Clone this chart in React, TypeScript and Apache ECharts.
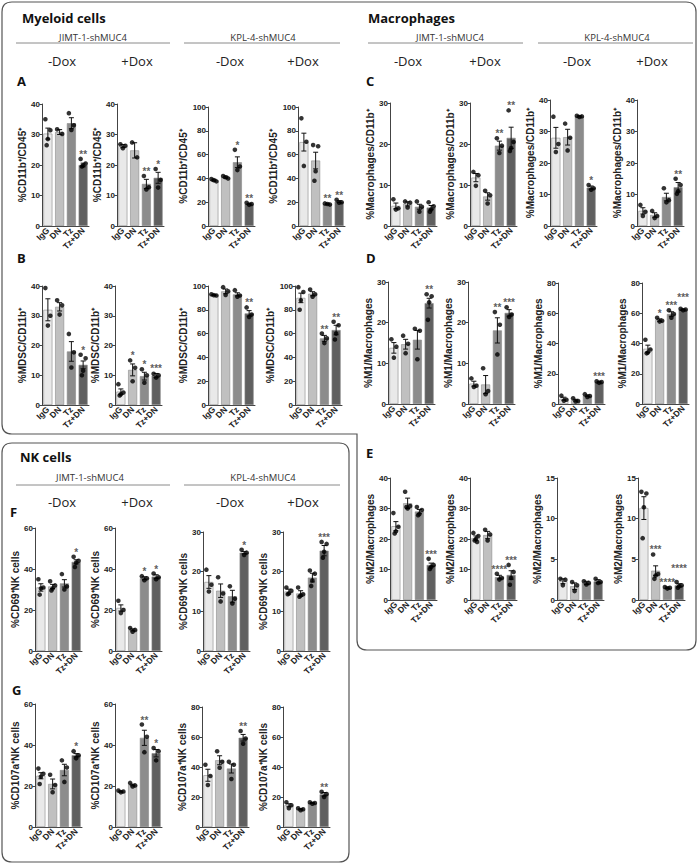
import React, { useEffect, useRef } from "react";
import * as echarts from "echarts";

// ---------- data ----------
const CATS = ["IgG", "DN", "Tz", "Tz+DN"];
const CELL_LINES = ["JIMT-1-shMUC4", "KPL-4-shMUC4"];
const DOX = ["-Dox", "+Dox"];

// Row A  (%CD11b+/CD45+)
const A_TITLE = "%CD11b⁺/CD45⁺";
const A_MAX = [40, 40, 100, 100];
const A_STEP = [10, 10, 20, 20];
const A_MEAN = [[30.3, 30.8, 33.7, 20.0], [26.2, 24.8, 13.8, 15.8], [38.5, 41.0, 53.6, 18.5], [70.5, 55.0, 18.5, 20.5]];
const A_SEM = [[1.8, 0.8, 1.8, 0.6], [0.5, 2.5, 1.5, 1.8], [0.8, 0.9, 4.5, 0.6], [7.5, 7.0, 0.6, 0.8]];
const A_PTS = [
  [[35, 31.4, 28.5, 26.5], [31.7, 30.2], [37, 33, 31.5], [22, 20.5, 19.8, 19.5]],
  [[26.8, 26.3, 25.5], [27.4, 22.5], [16.4, 12.7, 12.0], [18.7, 15.1, 12.6]],
  [[39.5, 37.5, 38.5], [42, 40, 41], [64, 50, 47], [19.5, 18.5, 17.8]],
  [[90.5, 70.8, 50.5], [68, 67, 46, 38], [19, 18, 18.5], [22, 20, 19.5]],
];
const A_SIG = [["", "", "", "**"], ["", "", "**", "*"], ["", "", "*", "**"], ["", "", "**", "**"]];

// Row B (%MDSC/CD11b+)
const B_TITLE = "%MDSC/CD11b⁺";
const B_MAX = [40, 40, 100, 100];
const B_STEP = [10, 10, 20, 20];
const B_MEAN = [[32, 33, 18, 13.5], [4.5, 11.8, 9.7, 9.9], [92.4, 95.5, 93, 77], [90, 93.5, 56, 63]];
const B_SEM = [[3.7, 1.4, 3.3, 1.3], [0.9, 2.0, 1.3, 0.7], [0.5, 2, 1.3, 2.3], [4, 1.7, 2.5, 4]];
const B_PTS = [
  [[39.3, 30, 26.7], [35.2, 33.5, 30.4], [23.9, 17.7, 12.6], [16.9, 15.7, 11.5, 10]],
  [[7, 4.2, 3.6, 3.2], [15, 12.5, 8], [12, 10, 7.5], [10.5, 10, 9.2]],
  [[93, 92, 92.3], [99, 95.5, 92.5], [96.5, 92, 91], [82, 76, 74]],
  [[99, 95, 88, 80], [97, 93, 91], [60, 56, 52], [70, 67, 60, 55]],
];
const B_SIG = [["", "", "", "*"], ["", "*", "*", "***"], ["", "", "", "**"], ["", "", "**", "**"]];

// Row C (%Macrophages/CD11b+)
const C_TITLE = "%Macrophages/CD11b⁺";
const C_MAX = [30, 30, 40, 40];
const C_STEP = [10, 10, 10, 10];
const C_MEAN = [[4.9, 5.4, 4.7, 4.5], [11.8, 7.2, 19.6, 21.5], [28.0, 28.2, 34.8, 12.2], [4.8, 3.5, 9.2, 12.3]];
const C_SEM = [[0.7, 0.5, 0.6, 0.5], [1.0, 0.9, 1.1, 2.6], [3.3, 2.5, 0.2, 0.5], [1.0, 0.7, 1.2, 1.5]];
const C_PTS = [
  [[6.5, 4.3, 4], [6, 5.7, 4.5], [6, 4.7, 3.5], [5.8, 4.8, 4, 3.5]],
  [[13.2, 12.4, 9.8], [8.6, 7.5, 5.5], [21.4, 19.6, 17.8], [28.2, 20.5, 19, 18.3]],
  [[34.7, 26, 23.5], [32.5, 28, 24], [35, 34.8, 34.6], [13, 12, 11.5]],
  [[6.7, 4.5, 3.2], [4.8, 3.2, 2.5], [12, 8.2, 7.5], [15, 13, 11, 10.2]],
];
const C_SIG = [["", "", "", ""], ["", "", "**", "**"], ["", "", "", "*"], ["", "", "", "**"]];

// Row D (%M1/Macrophages)
const D_TITLE = "%M1/Macrophages";
const D_MAX = [30, 30, 80, 80];
const D_STEP = [10, 10, 20, 20];
const D_MEAN = [[13.8, 14.7, 15.8, 24.8], [5.0, 4.8, 18.1, 22.4], [3.5, 2.5, 5.5, 14.5], [36.5, 55.5, 59.5, 62.5]];
const D_SEM = [[1.3, 1.2, 2.3, 1.2], [0.6, 2.2, 3.1, 0.8], [1.0, 0.6, 0.5, 0.5], [2.4, 0.8, 1.5, 0.3]];
const D_PTS = [
  [[15.9, 14.1, 11.4], [16.8, 14.8, 12.5], [18.5, 18, 11], [27, 26.5, 25, 20.7]],
  [[6.3, 4.5, 4.2], [8.8, 3.2, 2.4], [22.6, 19.5, 12.2], [23.8, 22, 21.4]],
  [[5.5, 2.8, 2.2], [3.8, 2, 1.7], [6.5, 5.3, 4.7], [15, 14.5, 14]],
  [[42.5, 36, 34, 33.5], [57, 55, 54.5], [62, 59.5, 57], [63, 62.5, 62]],
];
const D_SIG = [["", "", "", "**"], ["", "", "**", "***"], ["", "", "", "***"], ["", "*", "***", "***"]];

// Row E (%M2/Macrophages)
const E_TITLE = "%M2/Macrophages";
const E_MAX = [40, 40, 15, 15];
const E_STEP = [10, 10, 5, 5];
const E_MEAN = [[24.2, 31.7, 29.0, 11.5], [20.3, 21.3, 7.5, 8.2], [2.3, 1.7, 2.1, 2.3], [11.3, 3.6, 1.5, 1.8]];
const E_SEM = [[1.5, 1.7, 0.7, 0.6], [0.7, 1.2, 0.6, 1.4], [0.3, 0.4, 0.2, 0.2], [1.4, 0.6, 0.1, 0.2]];
const E_PTS = [
  [[28.5, 24, 22.5, 21.8], [35.5, 30.8, 30, 30.5], [30.5, 29.5, 28.2, 27.8], [13.5, 11.5, 10.8, 10.2]],
  [[22, 21, 20, 19.5, 19], [23, 21.5, 19.5], [8.6, 7.2, 6.7], [11.5, 9.2, 7.2, 5]],
  [[2.6, 2.5, 1.8], [2.2, 1.8, 1.1], [2.3, 2.1, 1.9], [2.6, 2.2, 2.1]],
  [[13.3, 13.1, 11.4, 7.6], [5.6, 3.2, 3.0, 2.6], [1.6, 1.5, 1.4], [2.2, 1.8, 1.7, 1.5]],
];
const E_SIG = [["", "", "", "***"], ["", "", "****", "***"], ["", "", "", ""], ["", "***", "****", "****"]];

// Row F (%CD69+NK cells)
const F_TITLE = "%CD69⁺NK cells";
const F_MAX = [60, 60, 30, 30];
const F_STEP = [20, 20, 10, 10];
const F_MEAN = [[31, 31.5, 33, 43.5], [21, 10.3, 35.5, 36.3], [17.4, 15.2, 13.8, 24.8], [15, 14.5, 18.5, 25.3]];
const F_SEM = [[1.8, 1.0, 1.8, 1.0], [1.5, 0.5, 0.7, 0.9], [1.6, 1.7, 1.5, 0.3], [0.6, 0.7, 1.1, 1.3]];
const F_PTS = [
  [[35, 31, 30.5, 27.5], [34, 32, 30.5, 29.5], [37.5, 31.5, 30], [46, 44, 43, 41]],
  [[24.5, 20, 18.5], [11.2, 10.3, 9.4], [36.5, 35.5, 34.5], [37.8, 36, 35]],
  [[20.5, 16.7, 15], [18.6, 14.5, 12.5], [16.3, 13.2, 12], [25.5, 24.8, 24.2]],
  [[16, 15.2, 14.5, 14.3], [16, 14.3, 14, 13.7], [20.3, 19.5, 17.8, 16.4], [27.5, 27, 25, 23.5]],
];
const F_SIG = [["", "", "", "*"], ["", "", "*", "*"], ["", "", "", "*"], ["", "", "", "***"]];

// Row G (%CD107a+NK cells)
const G_TITLE = "%CD107a⁺NK cells";
const G_MAX = [60, 60, 80, 80];
const G_STEP = [20, 20, 20, 20];
const G_MEAN = [[25, 21, 27.8, 35], [17.3, 20.5, 43.5, 36], [34.5, 44.5, 39, 59.5], [14.5, 11.8, 16, 21.8]];
const G_SEM = [[1.5, 2.4, 2.8, 0.8], [0.3, 0.4, 3.7, 1.8], [4, 3, 3, 2.2], [1, 0.4, 0.3, 1.2]];
const G_PTS = [
  [[28.5, 26, 24.5, 21], [25.5, 20.5, 17], [32.5, 29, 22], [37, 35, 33.5]],
  [[17.8, 17.3, 16.9], [21.5, 20.3, 19.8], [50, 44, 36.5], [38.5, 37, 32.5]],
  [[41.5, 34, 28], [50.5, 43.5, 39.5], [43.5, 41.5, 32], [64, 59, 55.5]],
  [[16.5, 14.5, 12.5], [12.5, 11.8, 11.2], [16.5, 16, 15.5], [23.5, 22, 20]],
];
const G_SIG = [["", "", "", "*"], ["", "", "**", "*"], ["", "", "", "**"], ["", "", "", "**"]];

// ---------- layout / style ----------
const BAR_COLORS = ["#e9e9e9", "#c0c0c0", "#8c8c8c", "#606060"];
const STAR_COLOR = "#333333";
const AX_FONT = '"Liberation Sans", Arial, sans-serif';
const HD_FONT = '"Open Sans", "Noto Sans", sans-serif';
const GRID_W = 47;
const DOT_OFFS = [-2.5, 2.5, 0, -1.2, 1.2];
// extra upward shift (px) of a significance label so neighbouring labels do not collide: "row-panel-category"
const STAR_LIFT: Record<string, number> = { "E-3-3": 9, "D-3-3": 7 };

const LAYOUT: Record<string, { lefts: number[]; tops: number[]; bottom: number }> = {
  A: { lefts: [42, 117, 208, 298], tops: [104, 104, 107, 107], bottom: 226 },
  B: { lefts: [42, 115, 208, 295], tops: [286, 286, 286, 286], bottom: 405 },
  C: { lefts: [390, 470, 550, 637], tops: [103, 103, 100, 100], bottom: 226 },
  D: { lefts: [388, 468, 558, 642], tops: [282, 282, 283, 283], bottom: 404 },
  E: { lefts: [390, 470, 557, 638], tops: [478, 478, 478, 478], bottom: 600 },
  F: { lefts: [35, 115, 203, 283], tops: [528, 528, 532, 532], bottom: 651 },
  G: { lefts: [35, 115, 202, 283], tops: [704, 704, 707, 707], bottom: 827 },
};

const OUTLINE_TOP =
  "M2,12 Q2,2 12,2 L686,2 Q696,2 696,12 L696,640 Q696,650 686,650 L367,650 Q357,650 357,640 L357,434 L12,434 Q2,434 2,424 Z";
const OUTLINE_NK =
  "M2,453 Q2,443 12,443 L339,443 Q349,443 349,453 L349,852 Q349,862 339,862 L12,862 Q2,862 2,852 Z";

echarts.graphic.registerShape("outlineTop", echarts.graphic.extendPath(OUTLINE_TOP, {}));
echarts.graphic.registerShape("outlineNK", echarts.graphic.extendPath(OUTLINE_NK, {}));

type Row = {
  key: string;
  title: string;
  max: number[];
  step: number[];
  mean: number[][];
  sem: number[][];
  pts: number[][][];
  sig: string[][];
};

const ROWS: Row[] = [
  { key: "A", title: A_TITLE, max: A_MAX, step: A_STEP, mean: A_MEAN, sem: A_SEM, pts: A_PTS, sig: A_SIG },
  { key: "B", title: B_TITLE, max: B_MAX, step: B_STEP, mean: B_MEAN, sem: B_SEM, pts: B_PTS, sig: B_SIG },
  { key: "C", title: C_TITLE, max: C_MAX, step: C_STEP, mean: C_MEAN, sem: C_SEM, pts: C_PTS, sig: C_SIG },
  { key: "D", title: D_TITLE, max: D_MAX, step: D_STEP, mean: D_MEAN, sem: D_SEM, pts: D_PTS, sig: D_SIG },
  { key: "E", title: E_TITLE, max: E_MAX, step: E_STEP, mean: E_MEAN, sem: E_SEM, pts: E_PTS, sig: E_SIG },
  { key: "F", title: F_TITLE, max: F_MAX, step: F_STEP, mean: F_MEAN, sem: F_SEM, pts: F_PTS, sig: F_SIG },
  { key: "G", title: G_TITLE, max: G_MAX, step: G_STEP, mean: G_MEAN, sem: G_SEM, pts: G_PTS, sig: G_SIG },
];

function txt(text: string, x: number, y: number, size: number, weight: string, align = "left", color = "#111") {
  return {
    type: "text",
    x,
    y,
    silent: true,
    style: {
      text,
      fontSize: size,
      fontWeight: weight,
      fontFamily: HD_FONT,
      fill: color,
      align,
      verticalAlign: "middle",
    },
  };
}
function hline(x1: number, x2: number, y: number) {
  return { type: "line", silent: true, shape: { x1, y1: y, x2, y2: y }, style: { stroke: "#8a8a8a", lineWidth: 1 } };
}

function buildOption() {
  const grid: any[] = [];
  const xAxis: any[] = [];
  const yAxis: any[] = [];
  const series: any[] = [];
  let gi = 0;
  ROWS.forEach((row) => {
    const lay = LAYOUT[row.key];
    for (let p = 0; p < 4; p++) {
      const top = lay.tops[p];
      const max = row.max[p];
      const mean = row.mean[p];
      const sem = row.sem[p];
      const pts = row.pts[p];
      const sig = row.sig[p];
      const key = row.key;
      grid.push({ left: lay.lefts[p], top, width: GRID_W, height: lay.bottom - top, containLabel: false, outerBoundsMode: "none" });
      xAxis.push({
        gridIndex: gi,
        type: "category",
        data: CATS,
        axisLine: { show: true, lineStyle: { color: "#444", width: 1 } },
        axisTick: { show: false },
        splitLine: { show: false },
        axisLabel: { interval: 0, rotate: 45, fontSize: 8.5, fontWeight: "bold", color: "#222", margin: 3, fontFamily: AX_FONT },
      });
      yAxis.push({
        gridIndex: gi,
        type: "value",
        min: 0,
        max,
        interval: row.step[p],
        name: row.title,
        nameLocation: "middle",
        nameGap: max >= 100 ? 17 : 14,
        nameTextStyle: { fontSize: 10, fontWeight: "bold", color: "#222", fontFamily: AX_FONT },
        axisLine: { show: true, lineStyle: { color: "#444", width: 1 } },
        axisTick: { show: true, length: 2.5, lineStyle: { color: "#444" } },
        splitLine: { show: false },
        axisLabel: { fontSize: 8, fontWeight: "bold", color: "#222", margin: 2, fontFamily: AX_FONT },
      });
      series.push({
        type: "bar",
        xAxisIndex: gi,
        yAxisIndex: gi,
        barWidth: 9,
        silent: true,
        z: 2,
        itemStyle: { borderColor: "#8a8a8a", borderWidth: 0.6 },
        data: mean.map((m, i) => ({ value: m, itemStyle: { color: BAR_COLORS[i] } })),
      });
      // error bars
      series.push({
        type: "custom",
        xAxisIndex: gi,
        yAxisIndex: gi,
        z: 3,
        silent: true,
        itemStyle: { color: "#111" },
        data: mean.map((m, i) => [i, m]),
        renderItem: (params: any, api: any) => {
          const i = params.dataIndex;
          const m = mean[i];
          const s = sem[i];
          const x = api.coord([i, m])[0];
          const yHi = api.coord([i, m + s])[1];
          const yLo = api.coord([i, Math.max(0, m - s)])[1];
          const st = { stroke: "#111", lineWidth: 1 };
          return {
            type: "group",
            children: [
              { type: "line", shape: { x1: x, y1: yLo, x2: x, y2: yHi }, style: st },
              { type: "line", shape: { x1: x - 2.5, y1: yHi, x2: x + 2.5, y2: yHi }, style: st },
              { type: "line", shape: { x1: x - 2.5, y1: yLo, x2: x + 2.5, y2: yLo }, style: st },
            ],
          };
        },
      });
      // significance stars: scatter with invisible symbol and a label
      const starData: any[] = [];
      sig.forEach((sg, i) => {
        if (!sg) return;
        const topVal = Math.max(mean[i] + sem[i], ...pts[i]);
        const lift = STAR_LIFT[`${key}-${p}-${i}`] || 0;
        starData.push({ value: [i, topVal], label: { formatter: sg, offset: [0, 1 - lift] } });
      });
      series.push({
        type: "scatter",
        xAxisIndex: gi,
        yAxisIndex: gi,
        z: 5,
        silent: true,
        symbol: "circle",
        symbolSize: 1,
        itemStyle: { color: "rgba(0,0,0,0)" },
        label: {
          show: true,
          position: "top",
          distance: 0,
          fontSize: 10,
          fontWeight: "bold",
          fontFamily: AX_FONT,
          color: STAR_COLOR,
        },
        data: starData,
      });
      series.push({
        type: "scatter",
        xAxisIndex: gi,
        yAxisIndex: gi,
        z: 4,
        silent: true,
        symbolSize: 4.6,
        itemStyle: { color: "#000" },
        data: pts.flatMap((arr, i) =>
          arr.map((v, k) => ({ value: [i, v], symbolOffset: [DOT_OFFS[k % DOT_OFFS.length], 0] }))
        ),
      });
      gi++;
    }
  });

  const graphic: any[] = [
    { type: "outlineTop", x: 0, y: 0, silent: true, style: { fill: "none", stroke: "#555", lineWidth: 1.2 } },
    { type: "outlineNK", x: 0, y: 0, silent: true, style: { fill: "none", stroke: "#555", lineWidth: 1.2 } },
    txt("Myeloid cells", 22, 18, 13, "bold"),
    txt("Macrophages", 368, 18, 13, "bold"),
    txt("NK cells", 20, 457, 13, "bold"),
    // myeloid headers
    txt(CELL_LINES[0], 93, 37, 9.5, "normal", "center", "#333"),
    txt(CELL_LINES[1], 263, 37, 9.5, "normal", "center", "#333"),
    hline(16, 170, 43),
    hline(184, 340, 43),
    txt(DOX[0], 62, 61, 13, "normal", "center", "#222"),
    txt(DOX[1], 137, 61, 13, "normal", "center", "#222"),
    txt(DOX[0], 230, 61, 13, "normal", "center", "#222"),
    txt(DOX[1], 303, 61, 13, "normal", "center", "#222"),
    // macrophage headers
    txt(CELL_LINES[0], 450, 37, 9.5, "normal", "center", "#333"),
    txt(CELL_LINES[1], 617, 37, 9.5, "normal", "center", "#333"),
    hline(368, 523, 43),
    hline(538, 693, 43),
    txt(DOX[0], 408, 61, 13, "normal", "center", "#222"),
    txt(DOX[1], 485, 61, 13, "normal", "center", "#222"),
    txt(DOX[0], 577, 61, 13, "normal", "center", "#222"),
    txt(DOX[1], 652, 61, 13, "normal", "center", "#222"),
    // NK headers
    txt(CELL_LINES[0], 90, 477, 9.5, "normal", "center", "#333"),
    txt(CELL_LINES[1], 263, 477, 9.5, "normal", "center", "#333"),
    hline(16, 170, 485),
    hline(184, 340, 485),
    txt(DOX[0], 62, 502, 13, "normal", "center", "#222"),
    txt(DOX[1], 137, 502, 13, "normal", "center", "#222"),
    txt(DOX[0], 230, 502, 13, "normal", "center", "#222"),
    txt(DOX[1], 303, 502, 13, "normal", "center", "#222"),
    // panel letters
    txt("A", 17, 81, 13, "bold"),
    txt("B", 17, 258, 13, "bold"),
    txt("C", 366, 81, 13, "bold"),
    txt("D", 366, 258, 13, "bold"),
    txt("E", 366, 453, 13, "bold"),
    txt("F", 10, 512, 13, "bold"),
    txt("G", 12, 690, 13, "bold"),
  ];

  return { animation: false, backgroundColor: "#fff", grid, xAxis, yAxis, series, graphic };
}

export default function App() {
  const ref = useRef<HTMLDivElement>(null);
  useEffect(() => {
    document.body.style.margin = "0";
    if (!ref.current) return;
    const chart = echarts.init(ref.current, undefined, { renderer: "svg" });
    chart.setOption(buildOption() as any);
    return () => chart.dispose();
  }, []);
  return <div ref={ref} style={{ width: 699, height: 864 }} />;
}
